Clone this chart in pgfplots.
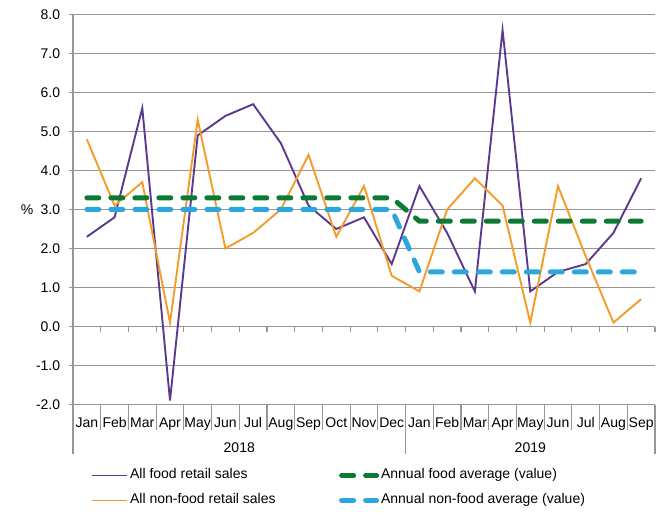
\documentclass[border=0pt]{standalone}
\usepackage{pgfplots}
\pgfplotsset{compat=1.18}
\usepackage{fontspec}
\setmainfont{Liberation Sans}
\definecolor{cfood}{HTML}{5B3A8E}
\definecolor{corange}{HTML}{F59B2A}
\definecolor{cgreen}{HTML}{0B7A35}
\definecolor{cblue}{HTML}{2AA7DF}
\definecolor{cgrid}{HTML}{969696}
\begin{document}
\fontsize{14bp}{16bp}\selectfont
\begin{tikzpicture}
\path[use as bounding box] (-73bp,-110.5bp) rectangle (597bp,404.5bp);
\begin{axis}[
  scale only axis, width=582bp, height=390bp,
  at={(0,0)}, anchor=south west,
  xmin=-0.5, xmax=20.5, ymin=-2, ymax=8,
  clip=false,
  axis x line*=bottom, axis y line*=left,
  x axis line style={draw=cgrid, line width=1.8bp, -},
  y axis line style={draw=cgrid, line width=1.2bp, -},
  xtick=\empty,
  ytick={-2,-1,...,8},
  ymajorgrids, grid style={draw=cgrid, line width=1.8bp},
  major y tick style={draw=cgrid, line width=1.8bp},
  tick align=outside, major tick length=4bp,
  yticklabel={\pgfmathprintnumber[fixed, fixed zerofill, precision=1, assume math mode=true]{\tick}},
  yticklabel style={xshift=-4bp},
  ylabel={\%}, ylabel style={rotate=-90, at={(axis description cs:0,0.5)}, anchor=center, xshift=-46bp},
  legend columns=2, transpose legend,
  legend style={draw=none, fill=none, at={(axis description cs:0,0)}, anchor=north west,
    xshift=15bp, yshift=-60.3bp, row sep=8bp,
    nodes={inner sep=2bp, text height=10bp, text depth=3bp}},
  legend cell align=left,
  legend image code/.code={\draw[#1] (0bp,0bp) -- (35bp,0bp);},
]
% x tick labels (months)
\foreach \m [count=\i from 0] in {Jan,Feb,Mar,Apr,May,Jun,Jul,Aug,Sep,Oct,Nov,Dec,Jan,Feb,Mar,Apr,May,Jun,Jul,Aug,Sep} {
  \edef\temp{\noexpand\node[anchor=base, inner sep=0pt] at ([yshift=-23bp]axis cs:\i,-2) {\m};}
  \temp
}
\node[anchor=base, inner sep=0pt] at ([yshift=-48bp]axis cs:5.5,-2) {2018};
\node[anchor=base, inner sep=0pt] at ([yshift=-48bp]axis cs:16,-2) {2019};
% separators
\foreach \b in {0.5,1.5,...,10.5,12.5,13.5,...,19.5} {
  \edef\temp{\noexpand\draw[cgrid, line width=1.2bp] (axis cs:\b,-2) -- ([yshift=-25bp]axis cs:\b,-2);}
  \temp
}
\foreach \b in {-0.5,11.5,20.5} {
  \edef\temp{\noexpand\draw[cgrid, line width=1.2bp] (axis cs:\b,-2) -- ([yshift=-49bp]axis cs:\b,-2);}
  \temp
}
% ticks on zero line
\foreach \b in {0.5,1.5,...,20.5} {
  \edef\temp{\noexpand\draw[cgrid, line width=1.2bp] (axis cs:\b,0) -- ([yshift=-5bp]axis cs:\b,0);}
  \temp
}
\addplot[cfood, line width=1.9bp] coordinates {
(0,2.3) (1,2.8) (2,5.6) (3,-1.9) (4,4.9) (5,5.4) (6,5.7) (7,4.7) (8,3.1) (9,2.5) (10,2.8) (11,1.6)
(12,3.6) (13,2.4) (14,0.9) (15,7.6) (16,0.9) (17,1.4) (18,1.6) (19,2.4) (20,3.8)};
\addlegendentry{\makebox[207bp][l]{All food retail sales}}
\addplot[corange, line width=1.9bp] coordinates {
(0,4.8) (1,3.1) (2,3.7) (3,0.1) (4,5.3) (5,2.0) (6,2.4) (7,3.0) (8,4.4) (9,2.3) (10,3.6) (11,1.3)
(12,0.9) (13,3.0) (14,3.8) (15,3.1) (16,0.1) (17,3.6) (18,1.8) (19,0.1) (20,0.7)};
\addlegendentry{\makebox[207bp][l]{All non-food retail sales}}
\addplot[cgreen, line width=5bp, line cap=round, dash pattern=on 12bp off 12bp] coordinates {
(0,3.3) (1,3.3) (2,3.3) (3,3.3) (4,3.3) (5,3.3) (6,3.3) (7,3.3) (8,3.3) (9,3.3) (10,3.3) (11,3.3)
(12,2.7) (13,2.7) (14,2.7) (15,2.7) (16,2.7) (17,2.7) (18,2.7) (19,2.7) (20,2.7)};
\addlegendentry{Annual food average (value)}
\addplot[cblue, line width=5bp, line cap=round, dash pattern=on 12bp off 12bp] coordinates {
(0,3.0) (1,3.0) (2,3.0) (3,3.0) (4,3.0) (5,3.0) (6,3.0) (7,3.0) (8,3.0) (9,3.0) (10,3.0) (11,3.0)
(12,1.4) (13,1.4) (14,1.4) (15,1.4) (16,1.4) (17,1.4) (18,1.4) (19,1.4) (20,1.4)};
\addlegendentry{Annual non-food average (value)}
\end{axis}
\end{tikzpicture}
\end{document}
